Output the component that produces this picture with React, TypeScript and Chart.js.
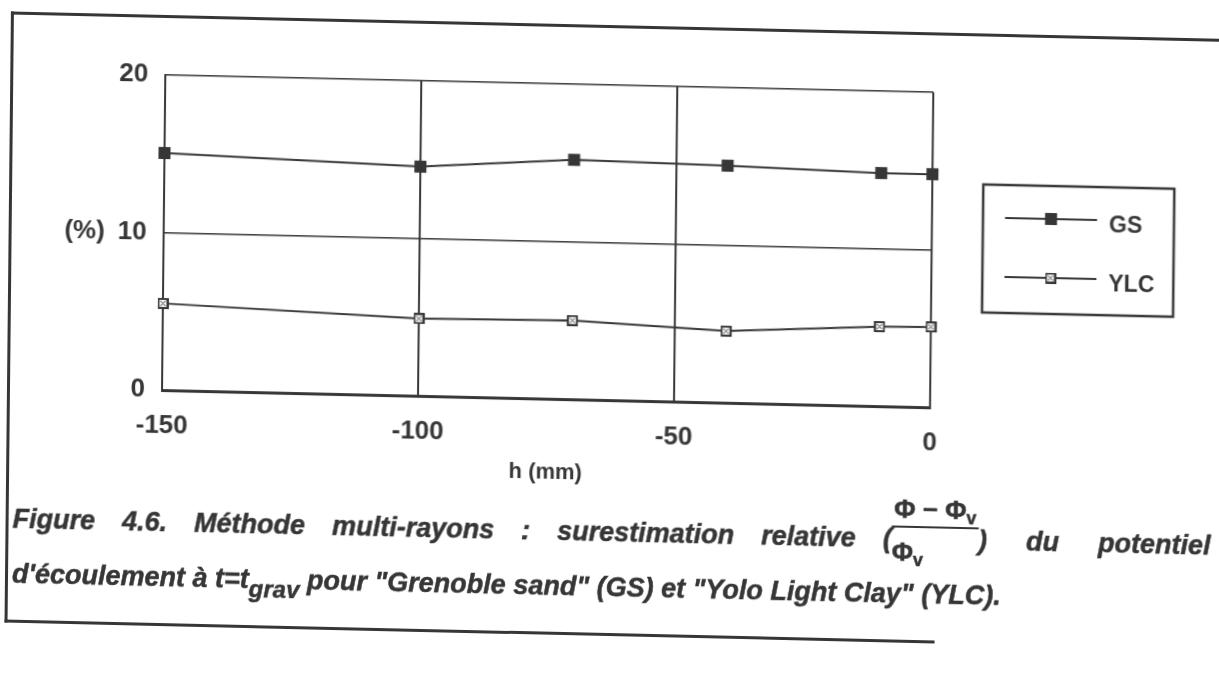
import React, { useEffect, useRef } from 'react';
import { Chart, registerables } from 'chart.js';

Chart.register(...registerables);

// ---- data ----
const hValues = [-150, -100, -70, -40, -10, 0];
const gsValues = [15.05, 14.55, 15.2, 15.05, 14.8, 14.8];
const ylcValues = [5.5, 4.9, 5.0, 4.55, 5.05, 5.1];
const seriesNames = ['GS', 'YLC'];
const xTickValues = [-150, -100, -50, 0];
const yTickValues = [0, 10, 20];
const yTickLabels = ['0', '(%)\u200210', '20'];
const xAxisTitle = 'h (mm)';

const INK = '#363636';
const FONT = '"Liberation Sans", Arial, Helvetica, sans-serif';

function makeHatchedSquare(): HTMLCanvasElement {
  const c = document.createElement('canvas');
  c.width = 11;
  c.height = 11;
  const g = c.getContext('2d') as CanvasRenderingContext2D;
  g.fillStyle = INK;
  g.fillRect(0, 0, 11, 11);
  g.fillStyle = '#ffffff';
  g.fillRect(2, 2, 7, 7);
  g.fillStyle = INK;
  const dots = [
    [3, 3], [7, 3], [4, 4], [6, 4], [5, 5], [4, 6], [6, 6], [3, 7], [7, 7],
  ];
  dots.forEach(([x, y]) => g.fillRect(x, y, 1, 1));
  return c;
}

const legendPlugin = {
  id: 'boxLegend',
  afterDraw(chart: any) {
    const { ctx } = chart;
    const box = { x: 981, y: 126, w: 191, h: 128 };
    ctx.save();
    ctx.strokeStyle = INK;
    ctx.lineWidth = 2.5;
    ctx.strokeRect(box.x, box.y, box.w, box.h);
    chart.data.datasets.forEach((ds: any, i: number) => {
      const y = box.y + 33 + i * 59;
      ctx.lineWidth = 2;
      ctx.strokeStyle = ds.borderColor;
      ctx.beginPath();
      ctx.moveTo(box.x + 22, y);
      ctx.lineTo(box.x + 114, y);
      ctx.stroke();
      const mx = box.x + 68;
      if (typeof ds.pointStyle === 'string') {
        ctx.fillStyle = ds.pointBackgroundColor;
        ctx.fillRect(mx - 6, y - 6, 12, 12);
      } else {
        const img = ds.pointStyle as HTMLCanvasElement;
        ctx.drawImage(img, mx - img.width / 2, y - img.height / 2);
      }
      ctx.fillStyle = INK;
      ctx.font = `bold 23px ${FONT}`;
      ctx.textBaseline = 'middle';
      ctx.textAlign = 'left';
      ctx.fillText(ds.label, box.x + 126, y + 6);
    });
    ctx.restore();
  },
};

export default function App() {
  const ref = useRef<HTMLCanvasElement>(null);

  useEffect(() => {
    const canvas = ref.current;
    if (!canvas) return;
    const hatch = makeHatchedSquare();
    const chart = new Chart(canvas, {
      type: 'line',
      data: {
        datasets: [
          {
            label: seriesNames[0],
            data: hValues.map((h, i) => ({ x: h, y: gsValues[i] })),
            borderColor: INK,
            backgroundColor: INK,
            borderWidth: 2,
            pointStyle: 'rect',
            pointRadius: 8.5,
            pointBorderWidth: 0,
            pointBackgroundColor: INK,
            tension: 0,
            clip: false,
          },
          {
            label: seriesNames[1],
            data: hValues.map((h, i) => ({ x: h, y: ylcValues[i] })),
            borderColor: INK,
            backgroundColor: INK,
            borderWidth: 2,
            pointStyle: hatch,
            pointRadius: 6,
            pointBorderWidth: 0,
            tension: 0,
            clip: false,
          },
        ],
      },
      options: {
        animation: false,
        responsive: false,
        devicePixelRatio: 1,
        layout: { padding: { left: 0, right: 289, top: 35, bottom: 0 } },
        plugins: { legend: { display: false }, tooltip: { enabled: false } },
        scales: {
          x: {
            type: 'linear',
            min: -150,
            max: 0,
            afterBuildTicks: (s: any) => {
              s.ticks = xTickValues.map((v) => ({ value: v }));
            },
            afterFit: (s: any) => {
              s.height = 100;
            },
            ticks: {
              padding: 20,
              color: INK,
              font: { family: FONT, size: 26, weight: 'bold' },
              callback: (v: any) => String(v),
              maxRotation: 0,
            },
            grid: {
              drawTicks: false,
              lineWidth: 2,
              color: (c: any) => (c.tick && c.tick.value === -150 ? 'rgba(0,0,0,0)' : INK),
            },
            border: { display: true, color: INK, width: 3 },
            title: {
              display: true,
              text: xAxisTitle,
              color: INK,
              font: { family: FONT, size: 22, weight: 'bold' },
              padding: { top: 4, bottom: 13 },
            },
          },
          y: {
            type: 'linear',
            min: 0,
            max: 20,
            afterBuildTicks: (s: any) => {
              s.ticks = yTickValues.map((v) => ({ value: v }));
            },
            afterFit: (s: any) => {
              s.width = 162;
            },
            ticks: {
              padding: 17,
              color: INK,
              font: { family: FONT, size: 26, weight: 'bold' },
              callback: (v: any) => {
                const i = yTickValues.indexOf(Number(v));
                return i >= 0 ? yTickLabels[i] : '';
              },
            },
            grid: {
              drawTicks: false,
              lineWidth: 1.5,
              borderDash: [2, 2],
              color: (c: any) => (c.tick && c.tick.value === 0 ? 'rgba(0,0,0,0)' : INK),
            } as any,
            border: { display: true, color: INK, width: 2 },
          },
        },
      },
      plugins: [legendPlugin],
    } as any);
    return () => chart.destroy();
  }, []);

  const capBase: React.CSSProperties = {
    position: 'absolute',
    left: 14,
    width: 1198,
    fontFamily: FONT,
    fontWeight: 700,
    fontStyle: 'italic',
    fontSize: 27,
    color: INK,
    margin: 0,
    whiteSpace: 'normal',
    WebkitTextStroke: `0.5px ${INK}`,
  };
  const sub: React.CSSProperties = { fontSize: 18, position: 'relative', top: 5 };

  return (
    <div
      style={{
        position: 'fixed',
        left: 0,
        top: 0,
        width: 1219,
        height: 680,
        overflow: 'hidden',
        background: '#ffffff',
      }}
    >
      <div
        style={{
          position: 'absolute',
          left: 0,
          top: 0,
          width: 1219,
          height: 680,
          transformOrigin: '162px 390px',
          transform: 'matrix(1, 0.0225, -0.0105, 1, 0, 0)',
        }}
      >
        <div style={{ position: 'absolute', left: 7, top: 15, width: 1280, height: 3, background: INK }} />
        <div style={{ position: 'absolute', left: 7, top: 15, width: 3, height: 611, background: INK }} />
        <div style={{ position: 'absolute', left: 7, top: 623, width: 930, height: 3, background: INK }} />
        <canvas
          ref={ref}
          width={1219}
          height={450}
          style={{ position: 'absolute', left: 0, top: 40, width: 1219, height: 450, display: 'block' }}
        />
        <div style={{ ...capBase, top: 477, lineHeight: '90px', textAlign: 'justify', textAlignLast: 'justify' }}>
          Figure 4.6. Méthode multi-rayons : surestimation relative (
          <span
            style={{
              display: 'inline-block',
              verticalAlign: -13,
              fontStyle: 'normal',
              textAlign: 'center',
              lineHeight: '26px',
              fontSize: 26,
            }}
          >
            <span style={{ display: 'block', padding: '0 2px 1px', borderBottom: `2px solid ${INK}` }}>
              Φ − Φ<span style={sub}>v</span>
            </span>
            <span style={{ display: 'block', paddingTop: 11 }}>
              Φ<span style={sub}>v</span>
            </span>
          </span>
          <span style={{ wordSpacing: 12 }}>) du potentiel</span>
        </div>
        <div style={{ ...capBase, top: 557, lineHeight: '40px' }}>
          d'écoulement à t=t<span style={{ position: 'relative', top: 9, fontSize: 24 }}>grav</span> pour "Grenoble
          sand" (GS) et "Yolo Light Clay" (YLC).
        </div>
      </div>
    </div>
  );
}
